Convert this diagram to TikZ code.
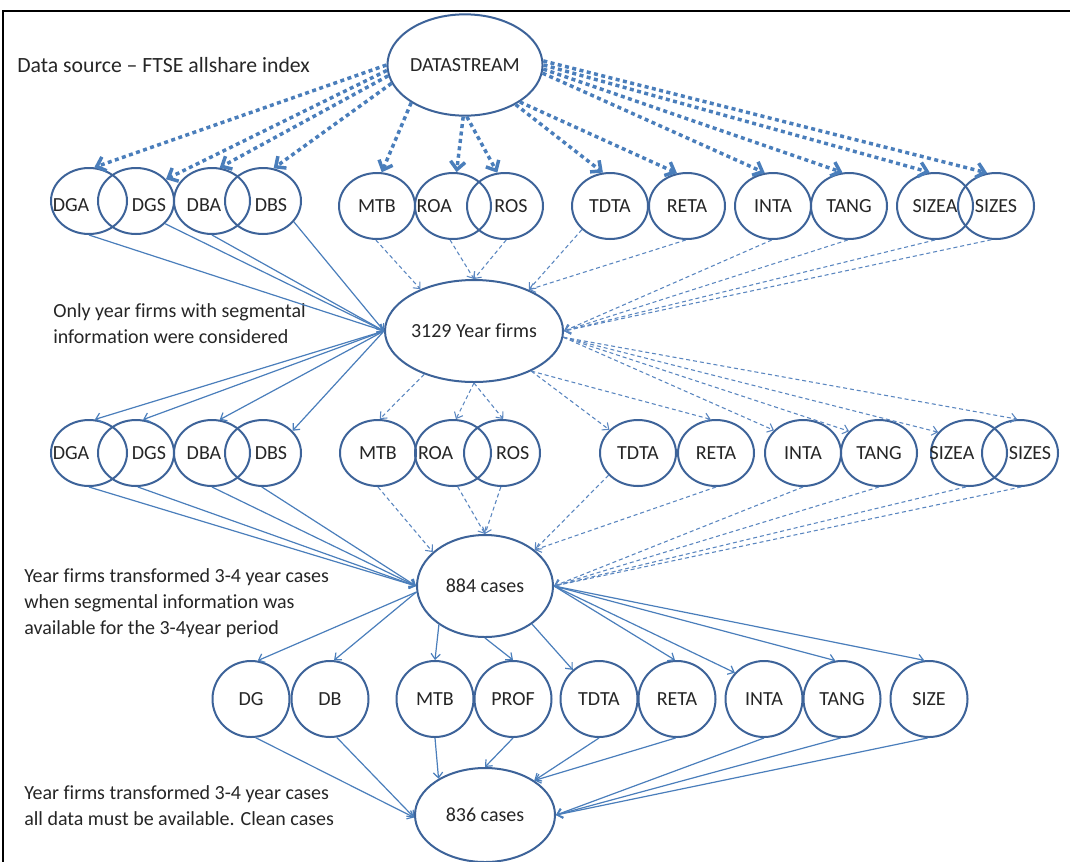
\documentclass[tikz,border=0pt]{standalone}
\usepackage{fontspec}
\setmainfont{Carlito}[Ligatures={TeX,NoCommon}]
\usetikzlibrary{shapes.geometric,arrows.meta}
\definecolor{ovalc}{HTML}{3D6399}
\definecolor{linkc}{HTML}{4A7EBB}
\definecolor{dashc}{HTML}{5A86C0}
\definecolor{txtc}{HTML}{262626}
\tikzset{
  oval/.style={ellipse, draw=ovalc, line width=1.5pt, inner sep=0pt},
  bigoval/.style={oval, minimum width=102pt, minimum height=76pt},
  ring/.style={oval, minimum width=57pt, minimum height=49.5pt},
  roundring/.style={oval, minimum width=57.75pt, minimum height=57pt},
  note/.style={anchor=west, align=left, inner sep=0pt, font=\fontsize{15}{19.5}\selectfont},
  feed/.style={draw=linkc, line width=2.6pt, dash pattern=on 3pt off 2.6pt,
    -{Straight Barb[length=6pt,width=11pt]}},
  solidlink/.style={draw=linkc, line width=0.9pt, -{Straight Barb[length=4pt,width=7pt]}},
  dashlink/.style={draw=dashc, line width=0.8pt, dash pattern=on 3pt off 2.2pt,
    -{Straight Barb[length=4pt,width=7pt]}},
}
\begin{document}
\begin{tikzpicture}[x=0.75pt, y=-0.75pt, font=\fontsize{15}{18}\selectfont, text=txtc]
\useasboundingbox (0,0) rectangle (1070,861);
\fill[white] (0,0) rectangle (1070,861);
\clip (0,0) rectangle (1070,861);
% frame
\draw[line width=1.5pt] (3,880) -- (3,11) -- (1090,11);

% explanatory notes
\node[note, font=\fontsize{16.3}{19.5}\selectfont] (n1) at (17,65) {Data source – FTSE allshare index};
\node[note] (n2) at (53,324) {Only year firms with segmental\\information were considered};
\node[note] (n3) at (24,603) {Year firms transformed 3-4 year cases\\when segmental information was\\available for the 3-4year period};
\node[note] (n4) at (24,806) {Year firms transformed 3-4 year cases\\all data must be available. Clean cases};

% main stages
\node[bigoval] (ds) at (465,65) {DATASTREAM};
\node[oval, minimum width=102pt, minimum height=76.5pt] (yf) at (474,331) {3129 Year firms};
\node[oval, minimum width=102pt, minimum height=76.5pt] (ca) at (485,586) {884 cases};
\node[oval, minimum width=105pt, minimum height=70.5pt] (cb) at (485,815) {836 cases};

% variables, first pass
\node[ring, label={[xshift=-13.5pt,yshift=-3pt]center:DGA}] (a-dga) at (89,201) {};
\node[ring, label={[xshift=9.75pt,yshift=-3pt]center:DGS}] (a-dgs) at (136,201) {};
\node[ring, label={[xshift=-6pt,yshift=-3pt]center:DBA}] (a-dba) at (212,201) {};
\node[ring, label={[xshift=6pt,yshift=-3pt]center:DBS}] (a-dbs) at (263,201) {};
\node[ring] (a-mtb) at (377,206) {MTB};
\node[ring, label={[xshift=-14pt]center:ROA}] (a-roa) at (453,206) {};
\node[ring, label={[xshift=4.5pt]center:ROS}] (a-ros) at (505,206) {};
\node[ring] (a-tdta) at (610,206) {TDTA};
\node[ring] (a-reta) at (687,206) {RETA};
\node[ring] (a-inta) at (773,206) {INTA};
\node[ring] (a-tang) at (849,206) {TANG};
\node[ring] (a-sizea) at (935,206) {SIZEA};
\node[ring] (a-sizes) at (996,206) {SIZES};

% variables, second pass
\node[ring, label={[xshift=-13.5pt]center:DGA}] (b-dga) at (89,453) {};
\node[ring, label={[xshift=9.75pt]center:DGS}] (b-dgs) at (136,453) {};
\node[ring, label={[xshift=-6pt]center:DBA}] (b-dba) at (212,453) {};
\node[ring, label={[xshift=6pt]center:DBS}] (b-dbs) at (263,453) {};
\node[ring] (b-mtb) at (378,453) {MTB};
\node[ring, label={[xshift=-13pt]center:ROA}] (b-roa) at (453,453) {};
\node[ring, label={[xshift=8pt]center:ROS}] (b-ros) at (502,453) {};
\node[ring] (b-tdta) at (638,453) {TDTA};
\node[ring] (b-reta) at (716,453) {RETA};
\node[ring] (b-inta) at (803,453) {INTA};
\node[ring] (b-tang) at (879,453) {TANG};
\node[ring, label={[xshift=-12.75pt]center:SIZEA}] (b-sizea) at (969,453) {};
\node[ring, label={[xshift=7.5pt]center:SIZES}] (b-sizes) at (1020,453) {};

% combined variables
\node[roundring] (c-dg) at (251,699) {DG};
\node[roundring] (c-db) at (330,699) {DB};
\node[roundring] (c-mtb) at (435,699) {MTB};
\node[roundring] (c-prof) at (513,699) {PROF};
\node[roundring] (c-tdta) at (599,699) {TDTA};
\node[roundring] (c-reta) at (677,699) {RETA};
\node[roundring] (c-inta) at (764,699) {INTA};
\node[roundring] (c-tang) at (842,699) {TANG};
\node[roundring] (c-size) at (929,699) {SIZE};

% DATASTREAM feeds
\draw[feed] (ds.180) -- (a-dga.81);
\draw[feed] (ds.184) -- (a-dgs.36);
\draw[feed] (ds.188) -- (a-dba.77);
\draw[feed] (ds.194) -- (a-dbs.72);
\draw[feed] (ds.215) -- (a-mtb.82);
\draw[feed] (ds.268) -- (a-roa.84);
\draw[feed] (ds.272) -- (a-ros.103);
\draw[feed] (ds.322) -- (a-tdta.102);
\draw[feed] (ds.326) -- (a-reta.107);
\draw[feed] (ds.-6) -- (a-inta.104);
\draw[feed] (ds.-3) -- (a-tang.101);
\draw[feed] (ds.0) -- (a-sizea.99);
\draw[feed] (ds.3) -- (a-sizes.105);

% first pass to year firms
\draw[solidlink] (a-dga.270) -- (yf.180);
\draw[solidlink] (a-dgs.322) -- (yf.180);
\draw[solidlink] (a-dba.270) -- (yf.180);
\draw[solidlink] (a-dbs.326) -- (yf.180);
\draw[dashlink] (a-mtb.268) -- (yf.142);
\draw[dashlink] (a-roa.265) -- (yf.90);
\draw[dashlink] (a-ros.272) -- (yf.90);
\draw[dashlink] (a-tdta.220) -- (yf.37);
\draw[dashlink] (a-reta.268) -- (yf.37);
\draw[dashlink] (a-inta.268) -- (yf.0);
\draw[dashlink] (a-tang.268) -- (yf.0);
\draw[dashlink] (a-sizea.270) -- (yf.0);
\draw[dashlink] (a-sizes.262) -- (yf.0);

% year firms to second pass
\draw[solidlink] (yf.180) -- (b-dga.80);
\draw[solidlink] (yf.180) -- (b-dgs.78);
\draw[solidlink] (yf.180) -- (b-dba.77);
\draw[solidlink] (yf.180) -- (b-dbs.37);
\draw[dashlink] (yf.221) -- (b-mtb.87);
\draw[dashlink] (yf.270) -- (b-roa.85);
\draw[dashlink] (yf.270) -- (b-ros.88);
\draw[dashlink] (yf.325) -- (b-tdta.141);
\draw[dashlink] (yf.325) -- (b-reta.99);
\draw[dashlink] (yf.-4) -- (b-inta.142);
\draw[dashlink] (yf.-4) -- (b-tang.144);
\draw[dashlink] (yf.-4) -- (b-sizea.146);
\draw[dashlink] (yf.-4) -- (b-sizes.95);

% second pass to 884 cases
\draw[solidlink] (b-dga.270) -- (ca.180);
\draw[solidlink] (b-dgs.273) -- (ca.180);
\draw[solidlink] (b-dba.270) -- (ca.180);
\draw[solidlink] (b-dbs.268) -- (ca.180);
\draw[dashlink] (b-mtb.270) -- (ca.147);
\draw[dashlink] (b-roa.278) -- (ca.90);
\draw[dashlink] (b-ros.268) -- (ca.90);
\draw[dashlink] (b-tdta.217) -- (ca.36);
\draw[dashlink] (b-reta.270) -- (ca.36);
\draw[dashlink] (b-inta.270) -- (ca.0);
\draw[dashlink] (b-tang.270) -- (ca.0);
\draw[dashlink] (b-sizea.265) -- (ca.0);
\draw[dashlink] (b-sizes.272) -- (ca.0);

% 884 cases to combined variables
\draw[solidlink] (ca.185) -- (c-dg.80);
\draw[solidlink] (ca.185) -- (c-db.84);
\draw[solidlink] (ca.220) -- (c-mtb.90);
\draw[solidlink] (ca.270) -- (c-prof.90);
\draw[solidlink] (ca.321) -- (c-tdta.132);
\draw[solidlink] (ca.0) -- (c-reta.93);
\draw[solidlink] (ca.0) -- (c-inta.138);
\draw[solidlink] (ca.0) -- (c-tang.100);
\draw[solidlink] (ca.0) -- (c-size.97);

% combined variables to clean cases
\draw[solidlink] (c-dg.277) -- (cb.182);
\draw[solidlink] (c-db.280) -- (cb.182);
\draw[solidlink] (c-mtb.270) -- (cb.142);
\draw[solidlink] (c-prof.270) -- (cb.90);
\draw[solidlink] (c-tdta.270) -- (cb.35);
\draw[solidlink] (c-reta.268) -- (cb.35);
\draw[solidlink] (c-inta.270) -- (cb.0);
\draw[solidlink] (c-tang.268) -- (cb.0);
\draw[solidlink] (c-size.268) -- (cb.0);
\end{tikzpicture}
\end{document}
